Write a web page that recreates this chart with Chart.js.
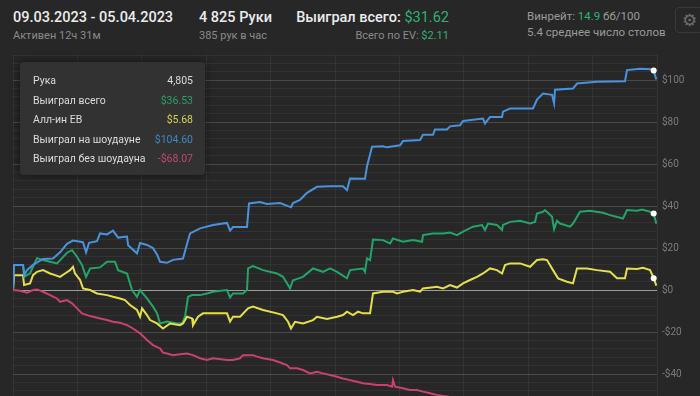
<!DOCTYPE html>
<html>
<head>
<meta charset="utf-8">
<script src="https://cdn.jsdelivr.net/npm/chart.js@4/dist/chart.umd.min.js"></script>
<style>
  html, body { margin: 0; padding: 0; background: #272727; overflow: hidden; }
  body { width: 700px; height: 396px; position: relative; font-family: Roboto, "Noto Sans", sans-serif; }
  .t { position: absolute; white-space: nowrap; line-height: 1.2; }
  .big { font-size: 14.5px; color: #ececec; font-weight: 500; }
  .small { font-size: 11px; color: #8a8a8a; }
  .mid { font-size: 11.5px; color: #9a9a9a; }
  .g { color: #2fb273; }
  #wrap { position: absolute; left: 0; top: 0; width: 700px; height: 427px; }
  #tip { position: absolute; left: 20px; top: 62px; width: 185px; height: 113px; background: #323232;
         border-radius: 4px; box-shadow: 0 0 10px rgba(0,0,0,0.55); box-sizing: border-box; padding: 9px 12px 0 13px; }
  .row { display: flex; justify-content: space-between; white-space: nowrap; height: 19.5px; line-height: 19.5px; font-size: 10.5px; color: #dcdcdc; }
  #gear { position: absolute; left: 675px; top: 7px; width: 28px; height: 26px; border: 1px solid #3a3a3a;
          border-radius: 4px; box-sizing: border-box; color: #6f6f6f; font-size: 17px; line-height: 24px; text-align: center; }
</style>
</head>
<body>
<div class="t big" style="left:13px; top:9px;">09.03.2023 - 05.04.2023</div>
<div class="t small" style="left:13px; top:29px;">Активен 12ч 31м</div>
<div class="t big" style="left:199px; top:9px;">4 825 Руки</div>
<div class="t small" style="left:199px; top:29px;">385 рук в час</div>
<div class="t big" style="right:251px; top:9px;">Выиграл всего: <span class="g" style="font-weight:400">$31.62</span></div>
<div class="t small" style="right:251px; top:29px;">Всего по EV: <span class="g">$2.11</span></div>
<div class="t mid" style="left:527px; top:10px;">Винрейт: <span class="g">14.9</span> бб/100</div>
<div class="t mid" style="left:527px; top:26px;">5.4 среднее число столов</div>
<div id="gear">⚙</div>

<div id="wrap"><canvas id="chart"></canvas></div>
<div id="tip"></div>

<script>
// hand numbers and cumulative $ values
const showdownHands = [0,8,75,83,105,150,225,300,353,405,450,525,548,570,630,653,705,750,788,855,863,930,953,1005,1050,1080,1103,1155,1200,1275,1305,1328,1403,1500,1605,1628,1650,1755,1770,1853,1905,2003,2063,2085,2100,2153,2205,2280,2378,2475,2505,2528,2640,2655,2693,2775,2805,2903,2925,3053,3075,3150,3165,3255,3278,3353,3375,3525,3540,3578,3668,3675,3728,3900,3930,3975,4043,4058,4065,4200,4230,4380,4590,4605,4703,4785,4805,4825];
const showdownWon = [0,12,12,7,9.5,12,14.8,15,18,22,23.6,22.8,18,22.5,23.3,27,26.5,28.3,25,25.5,21.4,17.5,22.4,21.5,20,17,13.5,13,14.4,15,22,27,29.4,31,32,28.3,30,30,41.3,42,41,41.5,40,39.5,41.5,43,46.3,49.2,49.5,49.5,47.6,53.2,53,59,68.3,68.5,68,69,71,71.5,74,74,76.5,76.5,78,78.5,80.6,81.7,79.4,82.5,82.5,85,86.5,86.5,90.8,93.6,93,89,95.5,96,98.4,99.2,99.5,104.8,105.5,105.2,104.6,100.3];

const totalHands = [0,8,75,90,128,180,225,278,330,368,405,443,480,518,548,578,653,705,765,788,855,893,930,953,1005,1050,1080,1103,1155,1230,1268,1290,1313,1343,1403,1455,1500,1605,1628,1650,1725,1755,1763,1800,1875,1980,2025,2078,2100,2175,2250,2325,2378,2430,2505,2528,2625,2640,2655,2678,2700,2775,2828,2850,2925,3000,3068,3075,3150,3225,3278,3330,3375,3450,3518,3540,3563,3630,3668,3675,3728,3803,3878,3915,3930,3975,3990,4043,4058,4080,4103,4178,4200,4215,4253,4328,4425,4478,4575,4605,4680,4718,4778,4805,4825];
const totalWon = [0,12,12,6.5,8,15.2,14.3,13.5,12.7,15.2,17.8,19,15.9,11.9,6.3,10.3,10.8,13.5,13.5,9.5,7.9,0,-3.2,0,-4,-7.9,-11,-15.9,-15,-15.9,-15.9,-12.7,-3.2,-2.4,-2.4,-1.6,-0.8,0,-3.5,-1.6,-1.6,0,10.3,11.4,9.5,7.9,6.3,0.8,4.7,6.3,10.3,8.7,10.3,8.7,5.6,9.5,10.3,8.7,15.1,14.3,24.1,23.8,22.2,24.6,23,23.8,23,26.2,27,27,27.4,26.2,27.8,30.2,31,28.6,31.7,31,28.6,31,32.5,33,31.7,32.5,36.5,37.3,38.1,34.9,29,33,31.7,30.2,31.7,33.3,37.3,37.8,36.8,35.7,34.1,38.1,37.8,38.4,37.3,36.53,31.62];

const evHands = [0,8,75,83,128,150,180,225,278,315,353,390,428,450,465,503,525,578,630,705,750,803,840,878,930,953,968,1005,1028,1080,1125,1178,1253,1275,1305,1343,1350,1388,1425,1605,1628,1650,1703,1763,1800,1875,1980,2025,2063,2085,2115,2175,2250,2280,2355,2430,2475,2505,2550,2588,2625,2678,2700,2775,2850,2880,2925,3000,3053,3075,3180,3225,3278,3330,3375,3428,3480,3525,3578,3630,3668,3690,3728,3803,3878,3930,3975,4005,4050,4088,4155,4200,4230,4305,4380,4478,4530,4590,4605,4680,4725,4778,4805,4825];
const evWon = [0,7.1,7.1,2.4,3.2,7.1,8.7,9.5,7.9,7.1,6.3,7.9,9.5,11.1,7.9,4.8,0.8,0,-1.6,-2.4,-3.2,-4,-4.8,-7.1,-9.5,-12.7,-8.7,-11.9,-14.3,-15.9,-18.3,-15.9,-16.7,-15.9,-12.7,-13.5,-16.7,-12.7,-11.1,-11.1,-15,-12.7,-12.7,-8.7,-7.9,-9.5,-11.1,-11.9,-15.1,-18.3,-15.1,-15.9,-14.3,-12.7,-13.8,-12.7,-11.9,-10.3,-11.9,-10.3,-11.1,-11.1,-1.6,-0.8,-0.8,-1.6,-0.8,0,-0.8,0.8,1.6,0.8,2.4,1.2,3.2,4.8,6.3,7.9,10.3,9.5,7.9,11.9,12.7,12.7,11.1,14.3,14.7,14.3,9.5,5.6,4,3.2,10.3,10.3,9.5,8.7,5.6,5.6,10.3,10,10.6,9.5,5.68,2.11];

const nonShowdownHands = [0,53,105,150,180,225,278,330,353,405,443,480,518,578,653,705,750,803,855,900,953,1005,1050,1103,1125,1155,1200,1253,1305,1350,1403,1455,1500,1605,1650,1703,1725,1800,1830,1875,1950,2003,2055,2078,2130,2175,2228,2280,2325,2378,2430,2475,2528,2580,2625,2678,2730,2805,2843,2850,2865,2925,2978,3030,3075,3128,3180,3278,3428,3578,3728,3878,4028,4178,4328,4478,4628,4740,4805,4825];
const nonShowdownWon = [0,-0.3,-1.3,0,0.3,-0.8,-2.4,-4,-5.6,-4.8,-6.3,-8.7,-11.1,-12.4,-13.5,-14.3,-15.1,-15.6,-16.7,-18.3,-20.6,-23.8,-26.2,-27.8,-29.8,-30.2,-31,-30.6,-30.2,-31,-32.5,-33.3,-32.5,-33.3,-33.3,-32.5,-31,-31,-31.7,-32.5,-33.3,-34.5,-35.7,-37.3,-37.3,-38.1,-39.7,-38.9,-39.7,-40.5,-41.3,-42.1,-42.9,-43.7,-44.4,-44.8,-45.2,-45.2,-46,-42.9,-46,-46.8,-47.6,-47.6,-48.4,-49.2,-50,-51,-52,-53,-54.5,-56,-58,-60.5,-62,-64,-66,-67.5,-68.07,-68.68];

const hoverHand = 4805;

const series = [
  { label: 'Выиграл всего', hands: totalHands, won: totalWon, color: '#23a468', tipColor: '#2e9f67' },
  { label: 'Алл-ин EB', hands: evHands, won: evWon, color: '#e6df4c', tipColor: '#d8d34c' },
  { label: 'Выиграл на шоудауне', hands: showdownHands, won: showdownWon, color: '#4a93dc', tipColor: '#3f86c6' },
  { label: 'Выиграл без шоудауна', hands: nonShowdownHands, won: nonShowdownWon, color: '#c9416f', tipColor: '#c04a6c' }
];

const money = v => (v < 0 ? '-' : '') + '$' + Math.abs(v).toFixed(2);

// tooltip box for the hovered hand
let tipHtml = '<div class="row"><span>Рука</span><span>' + hoverHand.toLocaleString('en-US') + '</span></div>';
series.forEach(s => {
  const v = s.won[s.hands.indexOf(hoverHand)];
  tipHtml += '<div class="row"><span>' + s.label + '</span><span style="color:' + s.tipColor + '">' + money(v) + '</span></div>';
});
document.getElementById('tip').innerHTML = tipHtml;

const ctx = document.getElementById('chart').getContext('2d');
new Chart(ctx, {
  type: 'line',
  data: {
    datasets: series.slice().reverse().map(s => ({
      label: s.label,
      data: s.hands.map((h, i) => ({ x: h, y: s.won[i] })),
      borderColor: s.color,
      borderWidth: 2,
      tension: 0,
      pointRadius: c => (c.raw && c.raw.x === hoverHand ? 3 : 0),
      pointBackgroundColor: '#ffffff',
      pointBorderWidth: 0
    }))
  },
  options: {
    responsive: true,
    maintainAspectRatio: false,
    animation: false,
    layout: { padding: { top: 55, left: 13, right: 0, bottom: 0 } },
    scales: {
      x: {
        type: 'linear',
        min: 0,
        max: 4830,
        ticks: { display: false, stepSize: 500 },
        border: { display: false },
        grid: { color: 'rgba(255,255,255,0.06)', drawTicks: false },
        afterFit: scale => { scale.height = 0; }
      },
      y: {
        position: 'right',
        min: -60,
        max: 112,
        ticks: {
          stepSize: 4,
          autoSkip: false,
          color: '#7c7c7c',
          font: { family: 'Roboto', size: 10 },
          padding: 5,
          callback: v => (v % 20 === 0 ? (v < 0 ? '-$' + Math.abs(v) : '$' + v) : '')
        },
        border: { display: false },
        grid: {
          drawTicks: false,
          color: c => (c.tick.value === 0 ? 'rgba(255,255,255,0.55)' : c.tick.value % 20 === 0 ? 'rgba(255,255,255,0.16)' : 'rgba(255,255,255,0.05)')
        },
        afterFit: scale => { scale.width = 43; }
      }
    },
    plugins: {
      legend: { display: false },
      tooltip: { enabled: false }
    }
  }
});
</script>
</body>
</html>
